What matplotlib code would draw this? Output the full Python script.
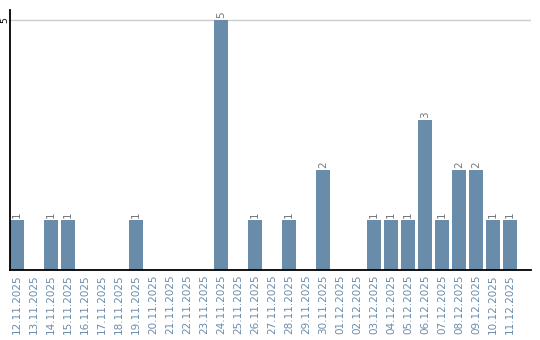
import matplotlib
matplotlib.use("Agg")
import matplotlib.pyplot as plt
import numpy as np

dates = [
    "12.11.2025", "13.11.2025", "14.11.2025", "15.11.2025", "16.11.2025",
    "17.11.2025", "18.11.2025", "19.11.2025", "20.11.2025", "21.11.2025",
    "22.11.2025", "23.11.2025", "24.11.2025", "25.11.2025", "26.11.2025",
    "27.11.2025", "28.11.2025", "29.11.2025", "30.11.2025", "01.12.2025",
    "02.12.2025", "03.12.2025", "04.12.2025", "05.12.2025", "06.12.2025",
    "07.12.2025", "08.12.2025", "09.12.2025", "10.12.2025", "11.12.2025",
]
counts = [1, 0, 1, 1, 0, 0, 0, 1, 0, 0, 0, 0, 5, 0, 1,
          0, 1, 0, 2, 0, 0, 1, 1, 1, 3, 1, 2, 2, 1, 1]
y_ticks = [5]

BAR = "#6a8cab"
LABEL = "#6a8cab"

fig = plt.figure(figsize=(5.4, 3.4), dpi=100)
ax = fig.add_axes([10 / 540, 70 / 340, 521 / 540, 260 / 340])

x = np.arange(len(dates))
ax.bar(x, counts, width=0.82, color=BAR, zorder=2)

for xi, v in zip(x, counts):
    if v > 0:
        ax.text(xi, v + 0.04, str(v), rotation=90, ha="center", va="bottom",
                fontsize=7.5, color="#777777")

ax.set_xlim(-0.41, 30.24)
ax.set_ylim(0, 5.2)
ax.set_xticks(x)
ax.set_xticklabels(dates, rotation=90, fontsize=7.5, color=LABEL)
ax.set_yticks(y_ticks)
ax.set_yticklabels([str(t) for t in y_ticks], rotation=90, fontsize=6.5,
                   va="center", ha="right")
ax.tick_params(axis="x", length=0, pad=3)
ax.tick_params(axis="y", length=0, pad=0.5)

for t in y_ticks:
    ax.axhline(t, color="#cccccc", lw=1, zorder=1)

for s in ["top", "right"]:
    ax.spines[s].set_visible(False)
ax.spines["left"].set_linewidth(1.3)
ax.spines["bottom"].set_linewidth(1.3)

fig.savefig("out.png", dpi=100)
